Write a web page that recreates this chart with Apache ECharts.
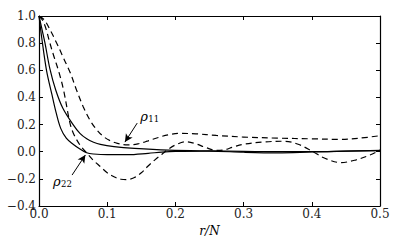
<!DOCTYPE html>
<html><head><meta charset="utf-8">
<script src="https://cdn.jsdelivr.net/npm/echarts@6/dist/echarts.min.js"></script>
<style>html,body{margin:0;padding:0;background:#fff}#c{width:399px;height:247px}</style>
</head><body><div id="c"></div>
<script>
// axis setup
const xMin = 0, xMax = 0.5, xStep = 0.1;
const yMin = -0.4, yMax = 1.0, yStep = 0.2;
const xName = 'r/N';

// series values as [r/N, value]
const rho11Dashed = [[0,1],[0.008,0.97],[0.016,0.90],[0.026,0.80],[0.036,0.69],[0.046,0.58],[0.055,0.455],[0.065,0.33],[0.075,0.23],[0.085,0.16],[0.095,0.11],[0.105,0.08],[0.115,0.062],[0.13,0.05],[0.145,0.058],[0.16,0.08],[0.175,0.105],[0.19,0.125],[0.207,0.135],[0.23,0.132],[0.26,0.12],[0.3,0.108],[0.35,0.10],[0.4,0.095],[0.44,0.091],[0.47,0.10],[0.5,0.118]];
const rho22Dashed = [[0,1],[0.005,0.97],[0.01,0.91],[0.016,0.80],[0.022,0.70],[0.029,0.59],[0.036,0.455],[0.045,0.22],[0.05,0.14],[0.06,0.05],[0.07,-0.01],[0.08,-0.065],[0.09,-0.11],[0.1,-0.155],[0.11,-0.185],[0.12,-0.203],[0.13,-0.205],[0.14,-0.19],[0.15,-0.155],[0.16,-0.105],[0.17,-0.06],[0.18,-0.02],[0.19,0.02],[0.2,0.05],[0.215,0.074],[0.23,0.058],[0.245,0.03],[0.26,0.01],[0.27,0.012],[0.285,0.035],[0.3,0.055],[0.33,0.072],[0.36,0.077],[0.38,0.055],[0.4,0.005],[0.42,-0.05],[0.443,-0.08],[0.465,-0.06],[0.485,-0.025],[0.5,0.012]];
const rho11Solid = [[0,1],[0.004,0.91],[0.0088,0.80],[0.016,0.61],[0.0245,0.455],[0.035,0.32],[0.05,0.20],[0.06,0.135],[0.07,0.095],[0.08,0.07],[0.09,0.054],[0.11,0.038],[0.14,0.025],[0.19,0.012],[0.25,0.006],[0.3,0.003],[0.35,0.0],[0.4,0.0],[0.45,0.004],[0.5,0.008]];
const rho22Solid = [[0,1],[0.004,0.84],[0.011,0.60],[0.019,0.42],[0.025,0.29],[0.032,0.17],[0.04,0.10],[0.05,0.055],[0.06,0.02],[0.07,-0.008],[0.08,-0.017],[0.1,-0.022],[0.13,-0.022],[0.16,-0.012],[0.18,-0.003],[0.2,0.002],[0.25,0.004],[0.3,-0.004],[0.35,-0.008],[0.4,-0.002],[0.45,0.004],[0.5,0.01]];

// annotations: label anchor and arrow [tail, tip] in data coords
const label11 = {text: '11', at: [0.1485, 0.263]};
const label22 = {text: '22', at: [0.0206, -0.216]};
const arrow11 = [[0.144, 0.211], [0.126, 0.071]];
const arrow22 = [[0.0485, -0.172], [0.068, -0.024]];

const FONT = 'DejaVu Serif';
const fmt = v => (v < -1e-9 ? '\u2212' : '') + Math.abs(v).toFixed(1);

const chart = echarts.init(document.getElementById('c'), null, {renderer: 'svg'});
const axisCommon = {
  axisLine: {show: true, onZero: false, lineStyle: {color: '#000', width: 1.2}},
  axisTick: {show: true, inside: true, length: 4, lineStyle: {color: '#000', width: 1}},
  splitLine: {show: false}
};
function lineSeries(data, dashed, extra) {
  return Object.assign({
    type: 'line', data: data, showSymbol: false, smooth: 0.35, silent: true,
    lineStyle: {color: '#000', width: 1.2, type: dashed ? [6, 4] : 'solid'}
  }, extra || {});
}
function arrowML(a, curv) {
  return {
    silent: true, symbol: ['none', 'arrow'], symbolSize: [6, 8],
    label: {show: false},
    lineStyle: {color: '#000', width: 1, type: 'solid', curveness: curv},
    data: [[{coord: a[0]}, {coord: a[1]}]]
  };
}
chart.setOption({
  animation: false,
  grid: {left: 39, right: 19, top: 16, bottom: 41, containLabel: false, outerBoundsMode: 'none'},
  xAxis: [
    Object.assign({type: 'value', min: xMin, max: xMax, interval: xStep, position: 'bottom',
      name: xName, nameLocation: 'middle', nameGap: 15,
      nameTextStyle: {fontFamily: FONT, fontStyle: 'italic', fontSize: 12, color: '#000'},
      axisLabel: {formatter: fmt, fontFamily: FONT, fontSize: 12, color: '#222', margin: 2}}, axisCommon),
    Object.assign({type: 'value', min: xMin, max: xMax, interval: xStep, position: 'top',
      axisLabel: {show: false}}, axisCommon)
  ],
  yAxis: [
    Object.assign({type: 'value', min: yMin, max: yMax, interval: yStep, position: 'left',
      axisLabel: {formatter: fmt, fontFamily: FONT, fontSize: 12, color: '#222', margin: 3}}, axisCommon),
    Object.assign({type: 'value', min: yMin, max: yMax, interval: yStep, position: 'right',
      axisLabel: {show: false}}, axisCommon)
  ],
  series: [
    lineSeries(rho11Dashed, true, {markLine: arrowML(arrow11, -0.2)}),
    lineSeries(rho22Dashed, true, {markLine: arrowML(arrow22, 0.2)}),
    lineSeries(rho11Solid, false),
    lineSeries(rho22Solid, false)
  ]
});

function subLabel(lbl) {
  const p = chart.convertToPixel({gridIndex: 0}, lbl.at);
  return {
    type: 'group', x: p[0], y: p[1], silent: true,
    children: [
      {type: 'text', x: 0, y: 0, style: {text: '\u03C1', fontFamily: FONT, fontStyle: 'italic', fontSize: 13, fill: '#000', verticalAlign: 'middle', align: 'left'}},
      {type: 'text', x: 8, y: 3, style: {text: lbl.text, fontFamily: FONT, fontSize: 8.5, fill: '#000', verticalAlign: 'middle', align: 'left'}}
    ]
  };
}
chart.setOption({graphic: [subLabel(label11), subLabel(label22)]});
</script></body></html>
